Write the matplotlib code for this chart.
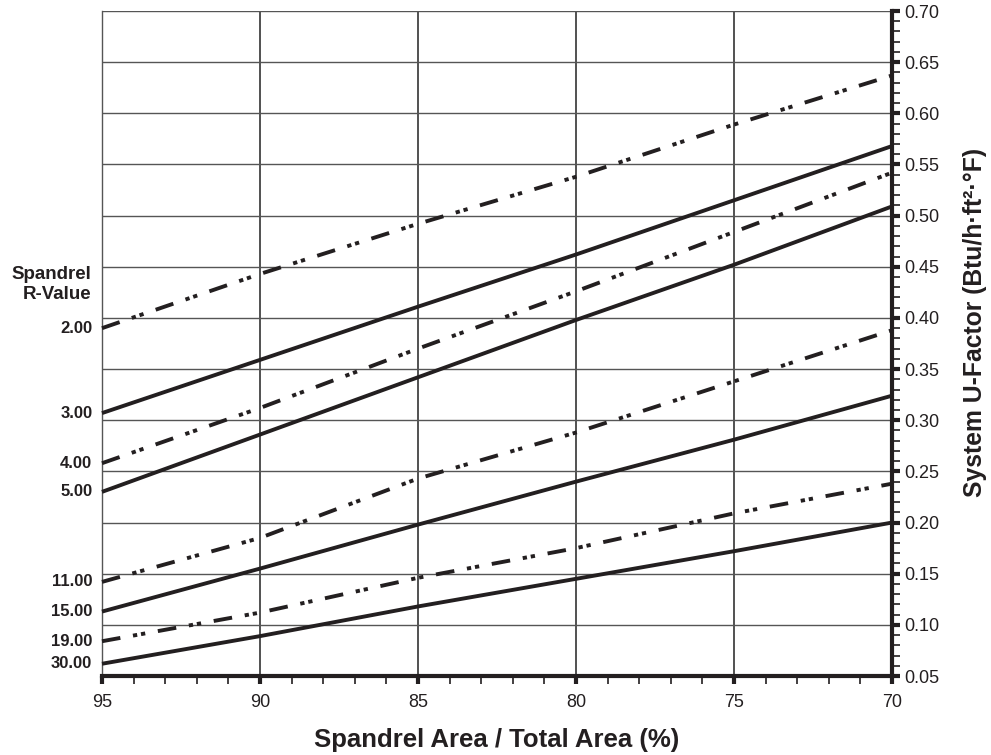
import matplotlib
matplotlib.use("Agg")
import matplotlib.pyplot as plt
from matplotlib.ticker import MultipleLocator, FormatStrFormatter

plt.rcParams['font.family'] = ['Liberation Sans', 'DejaVu Sans']

# spandrel area / total area (%)
area = [95, 90, 85, 80, 75, 70]

# system U-factor per spandrel R-value
r_labels = ['2.00', '3.00', '4.00', '5.00', '11.00', '15.00', '19.00', '30.00']
u_2 = [0.390, 0.443, 0.492, 0.538, 0.589, 0.637]
u_3 = [0.307, 0.359, 0.411, 0.462, 0.515, 0.568]
u_4 = [0.258, 0.312, 0.370, 0.426, 0.484, 0.542]
u_5 = [0.230, 0.286, 0.342, 0.398, 0.452, 0.509]
u_11 = [0.142, 0.185, 0.243, 0.288, 0.338, 0.388]
u_15 = [0.113, 0.155, 0.198, 0.240, 0.281, 0.324]
u_19 = [0.084, 0.112, 0.146, 0.175, 0.209, 0.238]
u_30 = [0.062, 0.089, 0.118, 0.145, 0.172, 0.200]
series = [u_2, u_3, u_4, u_5, u_11, u_15, u_19, u_30]
dashed = [True, False, True, False, True, False, True, False]

ink = '#231f20'

fig = plt.figure(figsize=(9.91, 7.55), dpi=100)
ax = fig.add_axes([0.1029, 0.1046, 0.7972, 0.8808])

ax.set_xlim(95, 70)
ax.set_ylim(0.05, 0.70)

# grid
for v in [90, 85, 80, 75]:
    ax.axvline(v, color='#222222', lw=1.1, zorder=1)
for i in range(1, 14):
    ax.axhline(0.05 + i * 0.05, color='#555555', lw=1.0, zorder=1)

for vals, lab, d in zip(series, r_labels, dashed):
    if d:
        ax.plot(area, vals, color=ink, lw=2.8, dashes=(4.8, 3.3, 1.1, 1.0, 1.1, 3.3),
                dash_capstyle='butt', zorder=3, clip_on=False)
    else:
        ax.plot(area, vals, color=ink, lw=2.8, solid_capstyle='butt', zorder=3, clip_on=False)
    ax.annotate(lab, xy=(95, vals[0]), xytext=(-7, 0), textcoords='offset points',
                ha='right', va='center', fontsize=12, fontweight='bold', color=ink)

ax.text(-0.013, 0.589, 'Spandrel\nR-Value', transform=ax.transAxes, ha='right', va='center',
        fontsize=13.5, fontweight='bold', color=ink, linespacing=1.25)

# axes styling
ax.spines['top'].set_visible(False)
ax.spines['left'].set_color('#555555')
ax.spines['left'].set_linewidth(1.0)
ax.spines['right'].set_linewidth(3.0)
ax.spines['right'].set_color(ink)
ax.spines['bottom'].set_linewidth(3.0)
ax.spines['bottom'].set_color(ink)

ax.yaxis.tick_right()
ax.xaxis.set_major_locator(MultipleLocator(5))
ax.xaxis.set_minor_locator(MultipleLocator(1))
ax.yaxis.set_major_locator(MultipleLocator(0.05))
ax.yaxis.set_minor_locator(MultipleLocator(0.01))
ax.yaxis.set_major_formatter(FormatStrFormatter('%.2f'))
ax.tick_params(axis='both', which='major', direction='out', length=6, width=3, color=ink,
               labelsize=13, labelcolor=ink, pad=3)
ax.tick_params(axis='both', which='minor', direction='out', length=6, width=1.2, color=ink)
ax.tick_params(axis='x', which='major', pad=7)

ax.text(0.5, -0.1068, 'Spandrel Area / Total Area (%)', transform=ax.transAxes, ha='center',
        va='baseline', fontsize=18.5, fontweight='bold', color=ink)
ax.text(1.105, 0.531, 'System U-Factor (Btu/h·ft²·°F)', transform=ax.transAxes, rotation=90,
        ha='center', va='center', fontsize=17.8, fontweight='bold', color=ink)

fig.savefig('out.png', dpi=100)
